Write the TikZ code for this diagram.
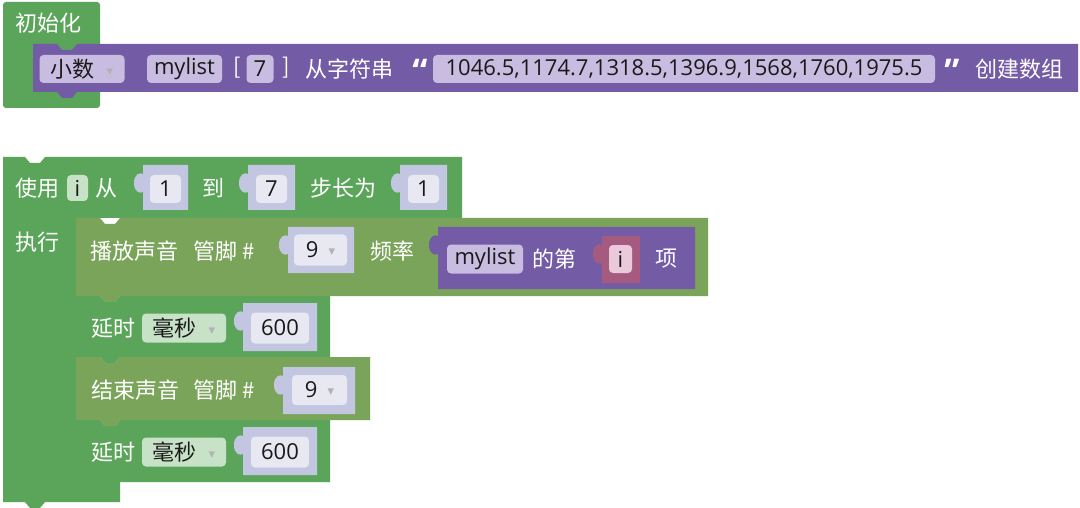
\documentclass[tikz,border=0pt]{standalone}
\usepackage{fontspec}
\setmainfont{Open Sans}
\newfontfamily\cjk{Noto Sans CJK SC}
\newfontfamily\symb{DejaVu Sans}
\usepackage{xcolor}
\usetikzlibrary{positioning}

\definecolor{loopgreen}{HTML}{5BA55B}
\definecolor{toneolive}{HTML}{7BA45B}
\definecolor{listpurple}{HTML}{745BA5}
\definecolor{varred}{HTML}{A55B80}
\definecolor{shadowblue}{HTML}{C3C6E0}
\definecolor{numfield}{HTML}{E7E8F2}
\definecolor{lavfield}{HTML}{C8BDE1}
\definecolor{greenfield}{HTML}{C8E2C8}
\definecolor{pinkfield}{HTML}{EACADA}

% value block with a puzzle tab on its left side
\newcommand{\tabblock}[5]{%
  \fill[#5] (#1,#2) -- (#3,#2) -- (#3,#4) -- (#1,#4) -- (#1,{#2+27})
    .. controls ({#1-3},{#2+29}) and ({#1-9},{#2+27}) .. ({#1-9},{#2+18})
    .. controls ({#1-9},{#2+9}) and ({#1-3},{#2+7}) .. (#1,{#2+9}) -- cycle;}
% statement block with notch on top and tab below
\newcommand{\stmtblock}[5]{%
  \fill[#5] (#1,#2) -- ({#1+24},#2) -- ({#1+29},{#2+6}) -- ({#1+39},{#2+6})
    -- ({#1+44},#2) -- (#3,#2) -- (#3,#4) -- ({#1+44},#4) -- ({#1+39},{#4+6})
    -- ({#1+29},{#4+6}) -- ({#1+24},#4) -- (#1,#4) -- cycle;}
% dropdown arrow
\newcommand{\dropmark}{\raisebox{2pt}{\symb\fontsize{13}{13}\selectfont\textcolor{black!30}{▾}}}

\begin{document}
\begin{tikzpicture}[
    x=1pt, y=-1pt,
    lbl/.style={text=white, inner sep=0pt, anchor=west, font=\cjk\fontsize{22}{22}\selectfont},
    quot/.style={text=white, inner sep=0pt, font=\bfseries\fontsize{34}{34}\selectfont},
    fld/.style={fill=#1, rounded corners=4pt, inner sep=0pt, text=black!90, font=\fontsize{22}{22}\selectfont}
]
    \useasboundingbox[fill=white] (0,0) rectangle (1080,508);

    % init block
    \fill[loopgreen, rounded corners=3pt] (3,2) rectangle (100,108);
    \node[lbl] (init) at (15,23) {初始化};
    \stmtblock{33}{44}{1078}{92}{listpurple}
    \node[fld=lavfield, minimum width=85pt, minimum height=28pt] (numtype) at (82,69)
        {\cjk 小数\hspace{12pt}\dropmark};
    \node[fld=lavfield, minimum width=75pt, minimum height=28pt] (lname) at (184.5,69) {mylist};
    \node[lbl, anchor=center] (lbrk) at (237,68) {[};
    \node[fld=lavfield, minimum width=27pt, minimum height=28pt] (llen) at (260,69) {7};
    \node[lbl, anchor=center] (rbrk) at (286,68) {]};
    \node[lbl] (fromstr) at (305,69) {从字符串};
    \node[quot] (lq) at (420,71) {“};
    \node[fld=lavfield, minimum width=502pt, minimum height=28pt] (str) at (684,69)
        {1046.5,1174.7,1318.5,1396.9,1568,1760,1975.5};
    \node[quot] (rq) at (952,71) {”};
    \node[lbl] (mkarr) at (975,69) {创建数组};

    % for loop block
    \fill[loopgreen] (3,157) -- (25,157) -- (30,163) -- (40,163) -- (45,157) -- (462,157)
        -- (462,218) -- (76,218) -- (76,482) -- (120,482) -- (120,502) -- (45,502)
        -- (40,508) -- (30,508) -- (25,502) -- (3,502) -- cycle;
    \node[lbl] (use) at (15,188) {使用};
    \node[fld=greenfield, minimum width=21pt, minimum height=26pt] (ivar) at (77.5,188) {i};
    \node[lbl] (from) at (95,188) {从};
    \tabblock{143}{165}{188}{210}{shadowblue}
    \node[fld=numfield, minimum width=31pt, minimum height=28pt] (start) at (165.5,189) {1};
    \node[lbl] (to) at (202,188) {到};
    \tabblock{248}{165}{295}{210}{shadowblue}
    \node[fld=numfield, minimum width=31pt, minimum height=28pt] (stop) at (271.5,189) {7};
    \node[lbl] (stepby) at (310,188) {步长为};
    \tabblock{400}{165}{447}{210}{shadowblue}
    \node[fld=numfield, minimum width=31pt, minimum height=28pt] (incr) at (423.5,189) {1};
    \node[lbl] (do) at (15,242) {执行};

    % play tone
    \stmtblock{76}{218}{708}{296}{toneolive}
    \node[lbl] (tone) at (90,251) {播放声音};
    \node[lbl] (pin) at (193,251) {管脚 \#};
    \tabblock{288}{227}{354}{273}{shadowblue}
    \node[fld=numfield, minimum width=53pt, minimum height=31pt] (pinnum) at (320.5,250)
        {9\hspace{10pt}\dropmark};
    \node[lbl] (freq) at (370,251) {频率};
    \tabblock{438}{227}{695}{289}{listpurple}
    \node[fld=lavfield, minimum width=76pt, minimum height=29pt] (item) at (485,259) {mylist};
    \node[lbl] (nth) at (532,259) {的第};
    \tabblock{602}{236}{640}{283}{varred}
    \node[fld=pinkfield, minimum width=23pt, minimum height=28pt] (idx) at (620.5,259) {i};
    \node[lbl] (entry) at (655,259) {项};

    % delay
    \stmtblock{76}{296}{330}{357}{loopgreen}
    \node[lbl] (wait) at (91,328) {延时};
    \node[fld=greenfield, minimum width=84pt, minimum height=29pt] (unit) at (184,328)
        {\cjk 毫秒\hspace{12pt}\dropmark};
    \tabblock{243}{303}{317}{351}{shadowblue}
    \node[fld=numfield, minimum width=58pt, minimum height=31pt] (ms) at (280,328) {600};

    % no tone
    \stmtblock{76}{357}{370}{420}{toneolive}
    \node[lbl] (notone) at (91,390) {结束声音};
    \node[lbl] (pinb) at (193,390) {管脚 \#};
    \tabblock{283}{367}{355}{414}{shadowblue}
    \node[fld=numfield, minimum width=55pt, minimum height=30pt] (pinnumb) at (319.5,390)
        {9\hspace{10pt}\dropmark};

    % delay
    \stmtblock{76}{420}{330}{482}{loopgreen}
    \node[lbl] (waitb) at (91,452) {延时};
    \node[fld=greenfield, minimum width=84pt, minimum height=29pt] (unitb) at (184,452)
        {\cjk 毫秒\hspace{12pt}\dropmark};
    \tabblock{243}{427}{317}{475}{shadowblue}
    \node[fld=numfield, minimum width=58pt, minimum height=31pt] (msb) at (280,452) {600};
\end{tikzpicture}
\end{document}
